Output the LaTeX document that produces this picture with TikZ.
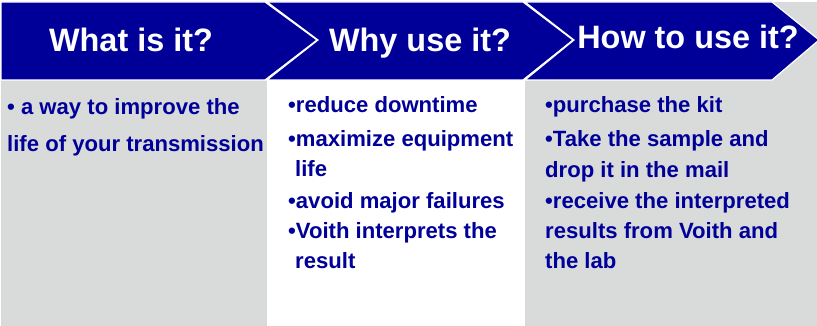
\documentclass[tikz,border=0pt]{standalone}
\usepackage{fontspec}
\setmainfont{Liberation Sans}
\definecolor{vblue}{RGB}{0,0,153}
\definecolor{vgray}{RGB}{217,219,219}
\begin{document}
\begin{tikzpicture}[x=1pt,y=-1pt,
  chev/.style={fill=vblue,draw=white,line width=1.2pt,line join=miter},
  head/.style={anchor=base,text=white,font=\fontsize{32.4}{36}\selectfont\bfseries,inner sep=0},
  body/.style={anchor=base west,text=vblue,font=\fontsize{22.1}{25}\selectfont\bfseries,inner sep=0}]
\useasboundingbox (0,0) rectangle (817,326);
\fill[white] (0,0) rectangle (817,326);
% column backgrounds
\fill[vgray] (1,80) rectangle (267,326);
\fill[vgray] (525,2) rectangle (817,326);
% chevrons
\path[chev] (1,2) -- (265,2) -- (317,40) -- (265,80) -- (1,80) -- cycle;
\path[chev] (267,2) -- (523,2) -- (573,40) -- (523,80) -- (267,80) -- (318,40) -- cycle;
\path[chev] (525,2) -- (772,2) -- (819,40) -- (772,80) -- (525,80) -- (574,40) -- cycle;
% headers
\node[head] (h1) at (131,52) {What is it?};
\node[head] (h2) at (420,52) {Why use it?};
\node[head] (h3) at (688,49) {How to use it?};
% column 1
\node[body] (a1) at (7,115) {• a way to improve the};
\node[body] (a2) at (7,152) {life of your transmission};
% column 2
\node[body] (b1) at (288,113) {•reduce downtime};
\node[body] (b2) at (288,147) {•maximize equipment};
\node[body] (b3) at (295,177) {life};
\node[body] (b4) at (288,208) {•avoid major failures};
\node[body] (b5) at (288,238) {•Voith interprets the};
\node[body] (b6) at (295,268) {result};
% column 3
\node[body] (c1) at (545,113) {•purchase the kit};
\node[body] (c2) at (545,147) {•Take the sample and};
\node[body] (c3) at (545,178) {drop it in the mail};
\node[body] (c4) at (545,208) {•receive the interpreted};
\node[body] (c5) at (545,238) {results from Voith and};
\node[body] (c6) at (545,268) {the lab};
\end{tikzpicture}
\end{document}
